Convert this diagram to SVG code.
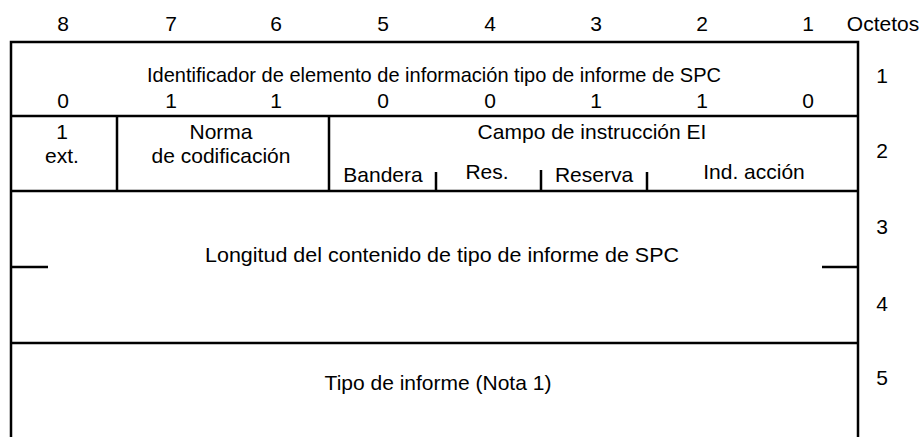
<svg xmlns="http://www.w3.org/2000/svg" width="923" height="437" viewBox="0 0 923 437">
<style>
text{font-family:"Liberation Sans",Arial,sans-serif;font-size:21px;fill:#000;text-anchor:middle}
.l{stroke:#000;stroke-width:2.5;fill:none}
</style>
<rect width="923" height="437" fill="#fff"/>
<g id="header">
<text x="63" y="31">8</text><text x="171" y="31">7</text><text x="276" y="31">6</text><text x="383" y="31">5</text>
<text x="490" y="31">4</text><text x="596" y="31">3</text><text x="702" y="31">2</text><text x="808" y="31">1</text>
<text x="883" y="31">Octetos</text>
</g>
<g id="frame">
<path class="l" d="M11,437 V42 H858 V437"/>
<path class="l" d="M11,116 H858 M11,191 H858 M11,343 H858"/>
<path class="l" d="M117,116 V191 M329,116 V191"/>
<path class="l" d="M436,172 V191 M541,170 V191 M647,172 V191"/>
<path class="l" d="M11,267 H48 M822,267 H858"/>
</g>
<g id="octet1">
<text x="434" y="82" textLength="574" lengthAdjust="spacingAndGlyphs">Identificador de elemento de información tipo de informe de SPC</text>
<text x="63" y="108">0</text><text x="171" y="108">1</text><text x="276" y="108">1</text><text x="383" y="108">0</text>
<text x="490" y="108">0</text><text x="596" y="108">1</text><text x="702" y="108">1</text><text x="808" y="108">0</text>
<text x="882" y="83">1</text>
</g>
<g id="octet2">
<text x="62" y="139">1</text><text x="62" y="163">ext.</text>
<text x="221" y="139">Norma</text><text x="221" y="163">de codificación</text>
<text x="592" y="139">Campo de instrucción EI</text>
<text x="383" y="182">Bandera</text>
<text x="487" y="179">Res.</text>
<text x="594" y="182">Reserva</text>
<text x="754" y="179">Ind. acción</text>
<text x="882" y="158">2</text>
</g>
<g id="octet34">
<text x="442" y="262" textLength="474" lengthAdjust="spacingAndGlyphs">Longitud del contenido de tipo de informe de SPC</text>
<text x="882" y="234">3</text>
<text x="882" y="311">4</text>
</g>
<g id="octet5">
<text x="438" y="390">Tipo de informe (Nota 1)</text>
<text x="882" y="385">5</text>
</g>
</svg>
